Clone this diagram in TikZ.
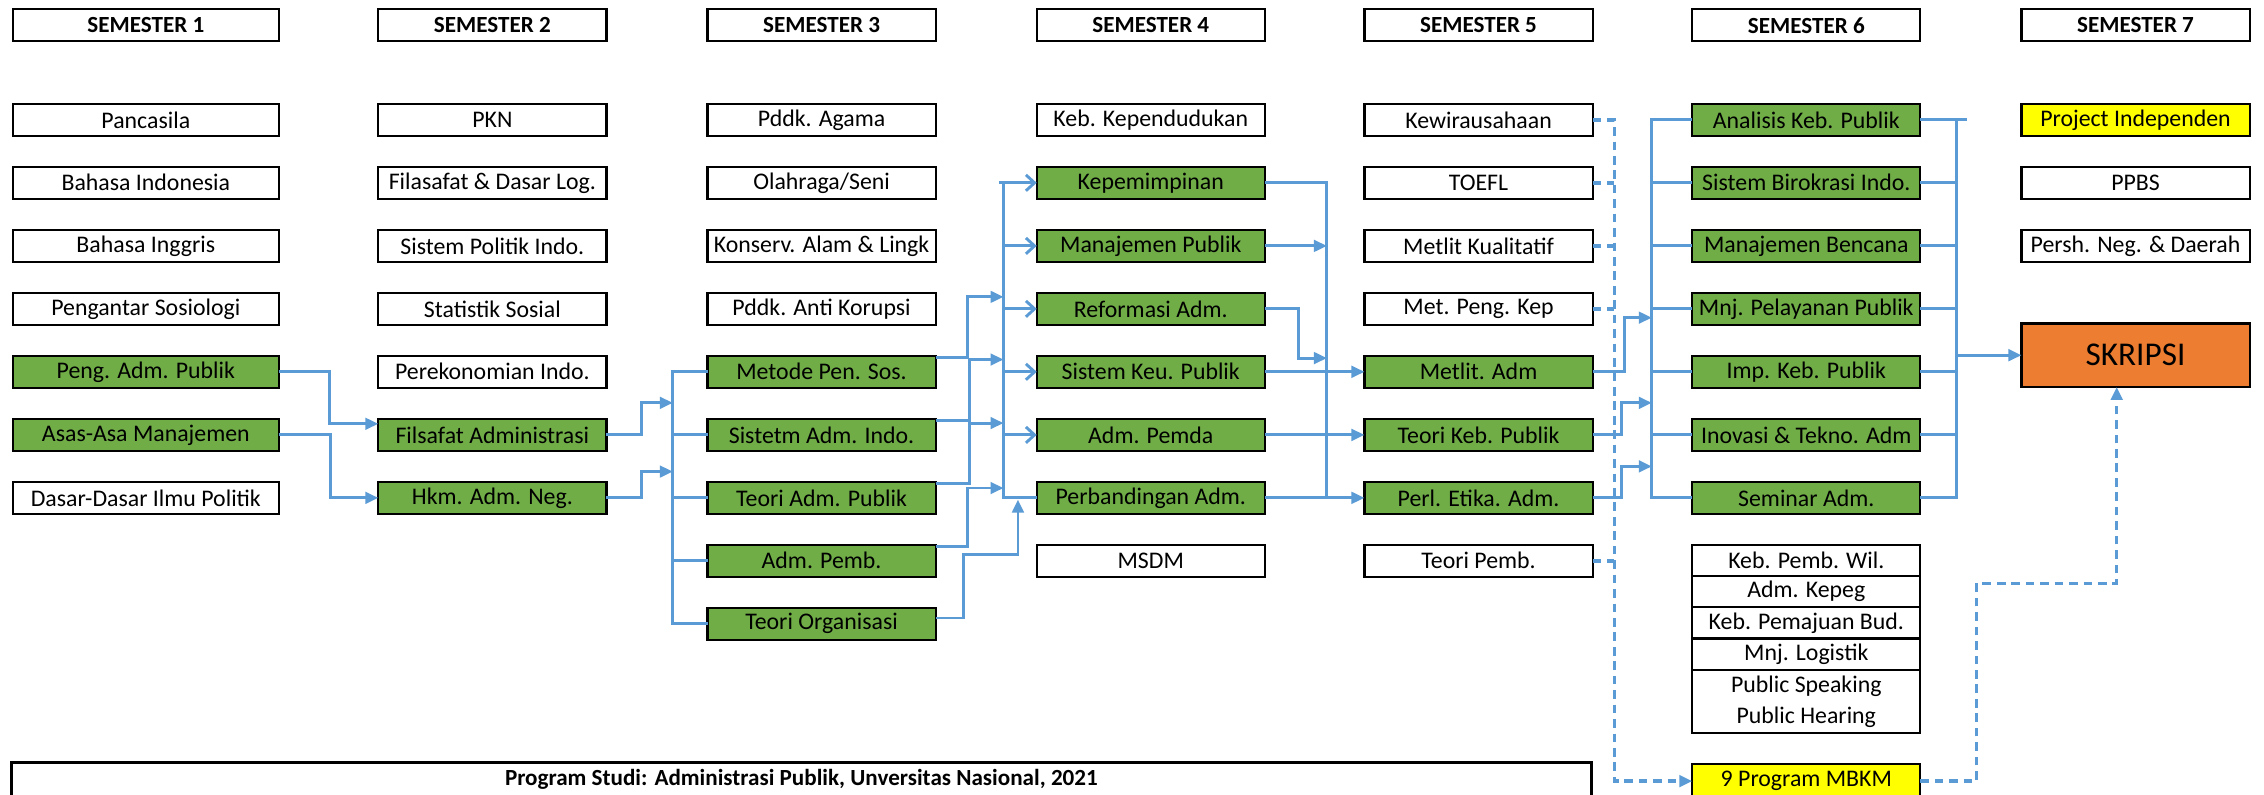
\documentclass[tikz,border=0pt]{standalone}
\usepackage{fontspec}
\setmainfont{Carlito}
\usetikzlibrary{arrows.meta,calc}
\definecolor{grn}{HTML}{70AD47}
\definecolor{blu}{HTML}{5B9BD5}
\definecolor{org}{HTML}{ED7D31}
\definecolor{yel}{HTML}{FFFF00}
\begin{document}
\begin{tikzpicture}[x=1pt,y=-1pt,
 box/.style={draw=black,line width=1.5pt,minimum width=158pt,minimum height=22pt,inner sep=0pt,outer sep=0pt,anchor=north west,font=\fontsize{16.5}{16.5}\selectfont},
 wbox/.style={box,minimum width=184pt},
 gbox/.style={box,fill=grn},
 hdr/.style={box,font=\bfseries\fontsize{16}{16}\selectfont},
 lbox/.style={box,minimum height=21.6pt},
 conn/.style={draw=blu,line width=2pt},
 tarr/.style={conn,-{Triangle[length=9pt,width=8pt]}},
 oarr/.style={conn,-{Straight Barb[length=6pt,width=11pt]}},
 dconn/.style={draw=blu,line width=2.4pt,dash pattern=on 6pt off 4pt},
]
\useasboundingbox (0,0) rectangle (1568,550);
\fill[white] (0,0) rectangle (1568,550);
% headers
\node[hdr,minimum width=184pt] (h1) at (9,6.5) {SEMESTER 1};
\node[hdr] (h2) at (262,6.5) {SEMESTER 2};
\node[hdr] (h3) at (490,6.5) {SEMESTER 3};
\node[hdr] (h4) at (718,6.5) {SEMESTER 4};
\node[hdr] (h5) at (945,6.5) {SEMESTER 5};
\node[hdr] (h6) at (1172,6.5) {SEMESTER 6};
\node[hdr] (h7) at (1400,6.5) {SEMESTER 7};
% column 1
\node[wbox] (pancasila) at (9,72) {Pancasila};
\node[wbox] (bindo) at (9,115.6) {Bahasa Indonesia};
\node[wbox] (binggris) at (9,159.3) {Bahasa Inggris};
\node[wbox] (pengsos) at (9,202.9) {Pengantar Sosiologi};
\node[wbox,fill=grn] (pap) at (9,246.5) {Peng. Adm. Publik};
\node[wbox,fill=grn] (asas) at (9,290.2) {Asas-Asa Manajemen};
\node[wbox] (ddip) at (9,333.8) {Dasar-Dasar Ilmu Politik};
% column 2
\node[box] (pkn) at (262,72) {PKN};
\node[box] (fdl) at (262,115.6) {Filasafat \& Dasar Log.};
\node[box] (spi) at (262,159.3) {Sistem Politik Indo.};
\node[box] (stat) at (262,202.9) {Statistik Sosial};
\node[box] (perek) at (262,246.5) {Perekonomian Indo.};
\node[gbox] (filsafat) at (262,290.2) {Filsafat Administrasi};
\node[gbox] (hkm) at (262,333.8) {Hkm. Adm. Neg.};
% column 3
\node[box] (agama) at (490,72) {Pddk. Agama};
\node[box] (olah) at (490,115.6) {Olahraga/Seni};
\node[box] (konserv) at (490,159.3) {Konserv. Alam \& Lingk};
\node[box] (antikor) at (490,202.9) {Pddk. Anti Korupsi};
\node[gbox] (metode) at (490,246.5) {Metode Pen. Sos.};
\node[gbox] (sistetm) at (490,290.2) {Sistetm Adm. Indo.};
\node[gbox] (tap) at (490,333.8) {Teori Adm. Publik};
\node[gbox] (admpemb) at (490,377.4) {Adm. Pemb.};
\node[gbox] (teoriorg) at (490,421) {Teori Organisasi};
% column 4
\node[box] (kependudukan) at (718,72) {Keb. Kependudukan};
\node[gbox] (kep) at (718,115.6) {Kepemimpinan};
\node[gbox] (manpub) at (718,159.3) {Manajemen Publik};
\node[gbox] (reform) at (718,202.9) {Reformasi Adm.};
\node[gbox] (keu) at (718,246.5) {Sistem Keu. Publik};
\node[gbox] (pemda) at (718,290.2) {Adm. Pemda};
\node[gbox] (perb) at (718,333.8) {Perbandingan Adm.};
\node[box] (msdm) at (718,377.4) {MSDM};
% column 5
\node[box] (kewira) at (945,72) {Kewirausahaan};
\node[box] (toefl) at (945,115.6) {TOEFL};
\node[box] (kual) at (945,159.3) {Metlit Kualitatif};
\node[box] (mpk) at (945,202.9) {Met. Peng. Kep};
\node[gbox] (metlitadm) at (945,246.5) {Metlit. Adm};
\node[gbox] (tkp) at (945,290.2) {Teori Keb. Publik};
\node[gbox] (perl) at (945,333.8) {Perl. Etika. Adm.};
\node[box] (tpemb) at (945,377.4) {Teori Pemb.};
% column 6
\node[gbox] (analisis) at (1172,72) {Analisis Keb. Publik};
\node[gbox] (birokrasi) at (1172,115.6) {Sistem Birokrasi Indo.};
\node[gbox] (bencana) at (1172,159.3) {Manajemen Bencana};
\node[gbox] (pelayanan) at (1172,202.9) {Mnj. Pelayanan Publik};
\node[gbox] (imp) at (1172,246.5) {Imp. Keb. Publik};
\node[gbox] (inovasi) at (1172,290.2) {Inovasi \& Tekno. Adm};
\node[gbox] (seminar) at (1172,333.8) {Seminar Adm.};
\node[lbox] (l1) at (1172,377.4) {Keb. Pemb. Wil.};
\node[lbox] (l2) at (1172,399) {Adm. Kepeg};
\node[lbox] (l3) at (1172,420.6) {Keb. Pemajuan Bud.};
\node[lbox] (l4) at (1172,442.2) {Mnj. Logistik};
\node[box,minimum height=43.8pt,align=center,font=\fontsize{16.5}{21.5}\selectfont] (l5) at (1172,463.8) {Public Speaking\\Public Hearing};
\node[box,fill=yel,minimum height=24pt] (mbkm) at (1172,529) {9 Program MBKM};
% column 7
\node[box,fill=yel] (proj) at (1400,72) {Project Independen};
\node[box] (ppbs) at (1400,115.6) {PPBS};
\node[box] (persh) at (1400,159.3) {Persh. Neg. \& Daerah};
\node[box,fill=org,minimum height=44pt,font=\fontsize{23}{23}\selectfont] (skripsi) at (1400,224) {SKRIPSI};
% note
\node[box,line width=2pt,minimum width=1094pt,minimum height=24pt,font=\bfseries\fontsize{16}{16}\selectfont] (note) at (8,528) {Program Studi: Administrasi Publik, Unversitas Nasional, 2021};

% Sem1 -> Sem2
\draw[tarr] (pap.east) -| (228,293.5) -- (filsafat.west |- 0,293.5);
\draw[tarr] (asas.east) -| (229,344.8) -- (hkm.west);
% Sem2 -> Sem3 bus
\draw[tarr] (filsafat.east) -| (444.5,279) -- (466,279);
\draw[tarr] (hkm.east) -| (444.5,326.6) -- (466,326.6);
\draw[conn] (metode.west) -- ++(-24,0) |- (teoriorg.west);
\foreach \n in {sistetm,tap,admpemb} \draw[conn] (\n.west) -- ++(-24,0);
% Sem3 -> Sem4 bus
\draw[tarr] ($(metode.north east)+(0,1)$) -| (670,205.6) -- (695,205.6);
\draw[tarr] ($(sistetm.north east)+(0,1)$) -| (671.6,249) -- (695,249);
\draw[tarr] ($(tap.north east)+(0,1)$) -| (671.6,293) -- (695,293);
\draw[tarr] ($(admpemb.north east)+(0,1)$) -| (670,338) -- (695,338);
\draw[tarr] ($(teoriorg.east)+(0,-4)$) -| (667,384) -| (705,346);
\draw[conn] (perb.west) -| (695,126.6);
\draw[oarr] (692,126.6) -- (kep.west);
\foreach \n in {manpub,reform,keu,pemda} \draw[oarr] (\n.west -| 695,0) -- (\n.west);
% Sem4 -> Sem5
\draw[conn] (kep.east) -| (919,344.8);
\draw[tarr] (manpub.east) -- (manpub.east -| 919,0);
\draw[tarr] (reform.east) -| (899.5,248) -- (919,248);
\draw[tarr] (keu.east) -- (metlitadm.west);
\draw[tarr] (pemda.east) -- (tkp.west);
\draw[tarr] (perb.east) -- (perl.west);
% Sem5 -> Sem6 bus
\draw[conn] (analisis.west) -- ++(-28,0) |- (seminar.west);
\foreach \n in {birokrasi,bencana,pelayanan,imp,inovasi} \draw[conn] (\n.west) -- ++(-28,0);
\draw[tarr] (metlitadm.east) -| (1125,220) -- (1144,220);
\draw[tarr] (tkp.east) -| (1123,279) -- (1144,279);
\draw[tarr] (perl.east) -| (1123,323) -- (1144,323);
% Sem6 -> SKRIPSI
\draw[conn] (analisis.east) -- ++(32,0);
\draw[conn] (seminar.east) -| (analisis.east -| 1355,0);
\foreach \n in {birokrasi,bencana,pelayanan,imp,inovasi} \draw[conn] (\n.east) -- ++(25,0);
\draw[tarr] (1355,246) -- (skripsi.west);
% dashed MBKM paths
\draw[dconn,-{Triangle[length=9pt,width=8pt]}] (kewira.east) -| (1118,541) -- (mbkm.west);
\foreach \n in {toefl,kual,mpk,tpemb} \draw[dconn] (\n.east) -- (\n.east -| 1118,0);
\draw[dconn,-{Triangle[length=9pt,width=8pt]}] (mbkm.east) -| (1369,404) -| (skripsi.south -| 1466,0);
\end{tikzpicture}
\end{document}
